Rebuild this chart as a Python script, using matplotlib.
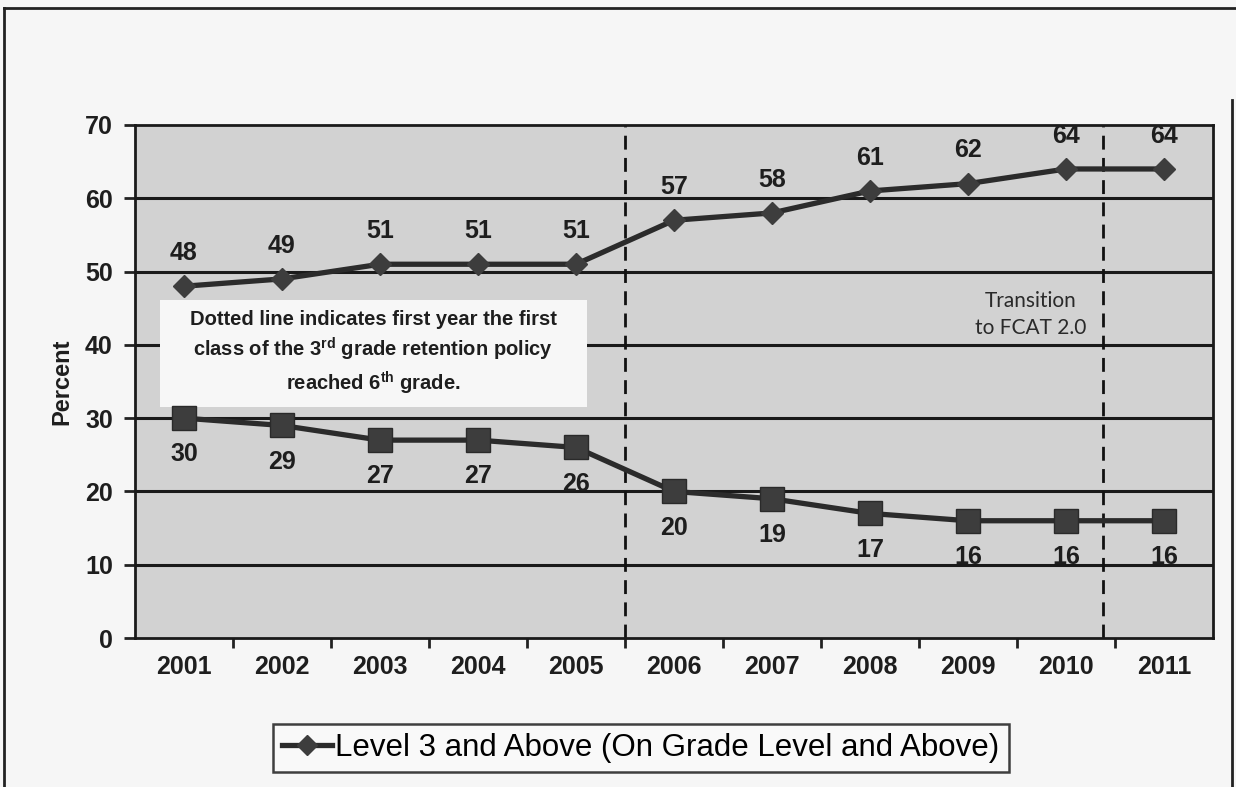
import matplotlib.pyplot as plt
from matplotlib.lines import Line2D
from matplotlib.patches import Rectangle

# =============================================================================
# DATA
# =============================================================================
years = ['2001', '2002', '2003', '2004', '2005', '2006', '2007', '2008', '2009', '2010', '2011']
level3_up = [48, 49, 51, 51, 51, 57, 58, 61, 62, 64, 64]
level1 = [30, 29, 27, 27, 26, 20, 19, 17, 16, 16, 16]
y_ticks = [0, 10, 20, 30, 40, 50, 60, 70]

policy_line_x = 4.5      # between 2005 and 2006
fcat_line_x = 9.38       # between 2010 and 2011

plt.rcParams['font.family'] = ['Liberation Sans', 'DejaVu Sans']
plt.rcParams['mathtext.fontset'] = 'custom'
plt.rcParams['mathtext.rm'] = 'Liberation Sans:bold'
plt.rcParams['mathtext.it'] = 'Liberation Sans:bold'
plt.rcParams['mathtext.bf'] = 'Liberation Sans:bold'

LINE = '#2b2b2b'
MARK = '#3d3d3d'

fig = plt.figure(figsize=(12.36, 7.87), dpi=100, facecolor='#f6f6f6')
ax = fig.add_axes([135 / 1236, 1 - 638 / 787, (1213 - 135) / 1236, (638 - 125) / 787])
ax.set_facecolor('#d2d2d2')

x = list(range(len(years)))

# gridlines (drawn under the data)
for yv in y_ticks[1:-1]:
    ax.axhline(yv, color='#1a1a1a', linewidth=2.2, zorder=1)

# white note box covering part of the grid
ax.add_patch(Rectangle((-0.25, 31.5), 4.36, 14.6, facecolor='#f7f7f7', edgecolor='none', zorder=2))

# vertical dashed reference lines
for xv in (policy_line_x, fcat_line_x):
    ax.axvline(xv, color='#111111', linewidth=2, linestyle=(0, (5, 3)), zorder=2)

ax.plot(x, level3_up, color=LINE, linewidth=3.8, marker='D', markersize=11,
        markerfacecolor=MARK, markeredgecolor=MARK, zorder=4)
ax.plot(x, level1, color=LINE, linewidth=3.8, marker='s', markersize=17,
        markerfacecolor=MARK, markeredgecolor='#2a2a2a', zorder=4)

for xi, v in zip(x, level3_up):
    ax.annotate(str(v), (xi, v), xytext=(0, 24), textcoords='offset points',
                ha='center', va='center', fontsize=18, fontweight='bold', color='#1e1e1e', zorder=5)
for xi, v in zip(x, level1):
    ax.annotate(str(v), (xi, v), xytext=(0, -26), textcoords='offset points',
                ha='center', va='center', fontsize=18, fontweight='bold', color='#1e1e1e', zorder=5)

# note text
note_x = 1.93
ax.text(note_x, 43.5, 'Dotted line indicates first year the first', ha='center', va='center',
        fontsize=14.5, fontweight='bold', color='#1e1e1e', zorder=5)
ax.text(note_x, 39.4, 'class of the 3$^{\\mathrm{rd}}$ grade retention policy', ha='center', va='center',
        fontsize=14.5, fontweight='bold', color='#1e1e1e', zorder=5)
ax.text(note_x, 34.8, 'reached 6$^{\\mathrm{th}}$ grade.', ha='center', va='center',
        fontsize=14.5, fontweight='bold', color='#1e1e1e', zorder=5)

ax.text(8.64, 44.1, 'Transition\nto FCAT 2.0', ha='center', va='center', fontsize=15,
        family=['Lato', 'DejaVu Sans'], color='#2a2a2a', linespacing=1.45, zorder=5)

# axes styling
ax.set_xlim(-0.5, len(years) - 0.5)
ax.set_ylim(0, 70)
ax.set_yticks(y_ticks)
ax.set_xticks(x)
ax.set_xticklabels(years)
ax.set_xticks([i + 0.5 for i in range(len(years) - 1)], minor=True)
ax.tick_params(axis='x', which='major', length=0, pad=12, labelsize=18)
ax.tick_params(axis='x', which='minor', length=7, width=2, direction='out', color='#222222')
ax.tick_params(axis='y', length=8, width=2, direction='out', pad=8, labelsize=18, color='#222222')
for lab in ax.get_xticklabels() + ax.get_yticklabels():
    lab.set_fontweight('bold')
    lab.set_color('#1e1e1e')
for s in ax.spines.values():
    s.set_linewidth(2)
    s.set_color('#1a1a1a')
ax.set_ylabel('Percent', fontsize=17, fontweight='bold', color='#1e1e1e', labelpad=8)

# legend (only the upper series is shown in the original)
handle = Line2D([], [], color=LINE, linewidth=3.8, marker='D', markersize=10,
                markerfacecolor=MARK, markeredgecolor=MARK)
leg = fig.legend([handle], ['Level 3 and Above (On Grade Level and Above)'],
                 loc='center', bbox_to_anchor=(641 / 1236, 1 - 748 / 787),
                 fontsize=22.5, frameon=True, fancybox=False, handlelength=1.6,
                 handletextpad=0.1, borderpad=0.3, borderaxespad=0)
leg.get_frame().set_edgecolor('#111111')
leg.get_frame().set_linewidth(1.8)
leg.get_frame().set_facecolor('#fbfbfb')

# outer frame of the scanned chart
fig.add_artist(Line2D([4 / 1236, 1], [1 - 8 / 787, 1 - 8 / 787], color='#222222', linewidth=2))
fig.add_artist(Line2D([4 / 1236, 4 / 1236], [0, 1 - 8 / 787], color='#222222', linewidth=2))
fig.add_artist(Line2D([1232 / 1236, 1232 / 1236], [0, 1 - 100 / 787], color='#222222', linewidth=2))

fig.savefig('out.png', dpi=100, facecolor=fig.get_facecolor())
